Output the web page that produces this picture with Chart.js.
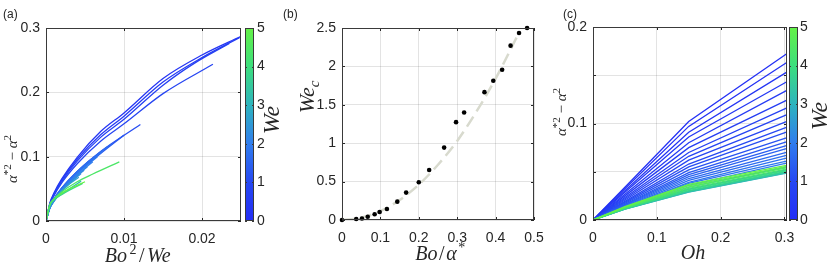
<!DOCTYPE html>
<html>
<head>
<meta charset="utf-8">
<script src="https://cdn.jsdelivr.net/npm/chart.js@4.4.1/dist/chart.umd.min.js"></script>
<style>
body { margin: 0; background: #fff; }
#wrap { position: relative; width: 830px; height: 271px; overflow: hidden; }
canvas { position: absolute; left: 0; top: 0; }
.tag { position: absolute; font: 12px 'Liberation Sans', Arial, sans-serif; color: #262626; }
</style>
</head>
<body>
<div id="wrap">
  <canvas id="chartA" width="830" height="271"></canvas>
  <canvas id="chartB" width="830" height="271"></canvas>
  <canvas id="chartC" width="830" height="271"></canvas>
  <div class="tag" style="left:3px;top:7px">(a)</div>
  <div class="tag" style="left:283px;top:7px">(b)</div>
  <div class="tag" style="left:563px;top:7px">(c)</div>
</div>
<script>
// ---- panel (a): alpha*^2 - alpha^2 vs Bo^2/We, one curve per We
const weA = [0.3, 0.5, 0.7, 0.9, 1.1, 1.3, 1.6, 1.7, 1.8, 1.9, 2.0, 2.1, 2.2, 2.3, 2.6, 3.2, 3.8, 5.0, 4.4];
const curvesAx = [
  [0, 0.0005, 0.001, 0.002, 0.004, 0.007, 0.01, 0.015, 0.02, 0.025],
  [0, 0.0005, 0.001, 0.002, 0.004, 0.007, 0.01, 0.015, 0.02, 0.0248],
  [0, 0.0005, 0.001, 0.002, 0.004, 0.007, 0.01, 0.015, 0.019, 0.0235],
  [0, 0.0005, 0.001, 0.002, 0.004, 0.007, 0.01, 0.015, 0.0214],
  [0, 0.0005, 0.001, 0.002, 0.004, 0.007, 0.0121],
  [0, 0.0005, 0.001, 0.002, 0.004, 0.007, 0.010],
  [0, 0.0005, 0.001, 0.002, 0.004, 0.006, 0.0085],
  [0, 0.0005, 0.001, 0.002, 0.004, 0.006, 0.0079],
  [0, 0.0005, 0.001, 0.002, 0.004, 0.0072],
  [0, 0.0005, 0.001, 0.002, 0.004, 0.0066],
  [0, 0.0005, 0.001, 0.002, 0.004, 0.006],
  [0, 0.0005, 0.001, 0.002, 0.004, 0.0053],
  [0, 0.0005, 0.001, 0.002, 0.004, 0.0049],
  [0, 0.0005, 0.001, 0.002, 0.003, 0.0045],
  [0, 0.0005, 0.001, 0.002, 0.003, 0.0042],
  [0, 0.0005, 0.001, 0.002, 0.003, 0.0045],
  [0, 0.0005, 0.001, 0.002, 0.003, 0.0047],
  [0, 0.0005, 0.001, 0.002, 0.003, 0.005],
  [0, 0.0005, 0.001, 0.002, 0.004, 0.006, 0.0094]
];
const curvesAy = [
  [0, 0.028, 0.043, 0.065, 0.099, 0.139, 0.168, 0.2215, 0.258, 0.287],
  [0, 0.027, 0.041, 0.063, 0.096, 0.134, 0.163, 0.216, 0.254, 0.285],
  [0, 0.026, 0.040, 0.061, 0.093, 0.130, 0.158, 0.211, 0.245, 0.276],
  [0, 0.025, 0.039, 0.059, 0.089, 0.124, 0.151, 0.198, 0.2436],
  [0, 0.022, 0.034, 0.051, 0.077, 0.108, 0.150],
  [0, 0.021, 0.033, 0.050, 0.075, 0.105, 0.1335],
  [0, 0.022, 0.0334, 0.0506, 0.0768, 0.098, 0.1206],
  [0, 0.022, 0.0334, 0.0505, 0.0767, 0.0977, 0.1154],
  [0, 0.0217, 0.0329, 0.0499, 0.0756, 0.1076],
  [0, 0.0212, 0.0322, 0.0487, 0.0739, 0.0998],
  [0, 0.0207, 0.0314, 0.0475, 0.072, 0.092],
  [0, 0.0204, 0.031, 0.047, 0.0712, 0.0843],
  [0, 0.0201, 0.0304, 0.0461, 0.0699, 0.079],
  [0, 0.0199, 0.0301, 0.0456, 0.0581, 0.074],
  [0, 0.0235, 0.033, 0.047, 0.0575, 0.068],
  [0, 0.024, 0.032, 0.042, 0.050, 0.062],
  [0, 0.025, 0.033, 0.041, 0.048, 0.0585],
  [0, 0.026, 0.034, 0.043, 0.050, 0.061],
  [0, 0.025, 0.034, 0.045, 0.061, 0.073, 0.092]
];
const xTicksA = [0, 0.01, 0.02];
const yTicksA = [0, 0.1, 0.2, 0.3];

// ---- panel (b): critical We vs Bo/alpha*
const pointsBx = [0, 0.037, 0.052, 0.067, 0.085, 0.098, 0.117, 0.144, 0.167, 0.200, 0.227, 0.266, 0.297, 0.318, 0.371, 0.394, 0.417, 0.439, 0.461, 0.482];
const pointsBy = [0, 0.013, 0.02, 0.043, 0.074, 0.104, 0.143, 0.239, 0.357, 0.491, 0.652, 0.943, 1.274, 1.40, 1.665, 1.813, 1.957, 2.270, 2.435, 2.50];
const fitBx = [0, 0.05, 0.1, 0.15, 0.2, 0.25, 0.3, 0.35, 0.4, 0.45, 0.455];
const fitBy = [0, 0.03, 0.115, 0.26, 0.46, 0.72, 1.03, 1.41, 1.84, 2.33, 2.38];
const xTicksB = [0, 0.1, 0.2, 0.3, 0.4, 0.5];
const yTicksB = [0, 0.5, 1, 1.5, 2, 2.5];

// ---- panel (c): alpha*^2 - alpha^2 vs Oh, one line per We
const ohC = [0, 0.05, 0.15, 0.303];
const weC = [0.1, 0.2, 0.3, 0.4, 0.5, 0.6, 0.7, 0.8, 0.9, 1.0, 1.1, 1.2, 1.3, 1.4, 1.5, 1.6, 1.7, 1.8, 1.9, 2.0,
             2.25, 2.5, 2.75, 3.0, 3.25, 3.5, 3.75, 4.0, 4.25, 4.5, 4.75, 5.0];
const valC005 = [0.034, 0.0323, 0.0303, 0.0287, 0.0267, 0.025, 0.0233, 0.022, 0.0207, 0.0193, 0.0183, 0.0173, 0.0163, 0.0157, 0.015, 0.0143, 0.0137, 0.013, 0.0127, 0.012,
                 0.0125, 0.012, 0.0115, 0.0112, 0.0113, 0.0115, 0.0118, 0.0121, 0.0125, 0.0129, 0.0134, 0.0139];
const valC015 = [0.102, 0.097, 0.091, 0.086, 0.080, 0.075, 0.070, 0.066, 0.062, 0.058, 0.055, 0.052, 0.049, 0.047, 0.045, 0.043, 0.041, 0.039, 0.038, 0.036,
                 0.034, 0.032, 0.030, 0.029, 0.0292, 0.0298, 0.0305, 0.0315, 0.0327, 0.034, 0.0355, 0.037];
const valCend = [0.172, 0.163, 0.153, 0.143, 0.134, 0.124, 0.116, 0.109, 0.102, 0.096, 0.091, 0.085, 0.081, 0.077, 0.074, 0.070, 0.067, 0.064, 0.061, 0.059,
                 0.055, 0.052, 0.050, 0.0485, 0.0488, 0.0495, 0.0505, 0.0515, 0.0527, 0.054, 0.0552, 0.0565];
const xTicksC = [0, 0.1, 0.2, 0.3];
const yTicksC = [0, 0.05, 0.1, 0.15, 0.2];
const yLabelsC = ['0', '', '0.1', '', '0.2'];
const cbTicks = [0, 1, 2, 3, 4, 5];

// colormap for We (0..5)
const cmap = [[0, [35, 45, 245]], [1, [38, 72, 242]], [2, [48, 125, 238]], [3, [45, 180, 190]], [4, [60, 222, 125]], [5, [100, 242, 70]]];
function weColor(w) {
  for (let i = 1; i < cmap.length; i++) {
    if (w <= cmap[i][0]) {
      const [w0, c0] = cmap[i - 1], [w1, c1] = cmap[i];
      const f = (w - w0) / (w1 - w0);
      return 'rgb(' + c0.map((c, k) => Math.round(c + f * (c1[k] - c))).join(',') + ')';
    }
  }
  return 'rgb(' + cmap[cmap.length - 1][1].join(',') + ')';
}

Chart.defaults.font.family = "'Liberation Sans', Arial, sans-serif";
Chart.defaults.font.size = 14;
Chart.defaults.color = '#262626';

const INK = '#262626';
const GRID = 'rgba(38,38,38,0.13)';
const ROT = -Math.PI / 2;

// rich text for the LaTeX-like labels
function drawMath(ctx, t) {
  const fam = "'Liberation Serif', 'Times New Roman', serif";
  const fontFor = p => {
    const small = p[1] === 'sr' || p[1] === 'si';
    const ital = p[1] === 'i' || p[1] === 'si';
    return (ital ? 'italic ' : '') + Math.round(small ? t.size * 0.7 : t.size) + 'px ' + fam;
  };
  ctx.save();
  ctx.translate(t.x, t.y);
  if (t.rot) ctx.rotate(t.rot);
  let w = 0;
  const widths = t.parts.map(p => { ctx.font = fontFor(p); const m = ctx.measureText(p[0]).width + (t.gap || 0); w += m; return m; });
  let cx = -w / 2;
  ctx.fillStyle = INK;
  ctx.textBaseline = 'alphabetic';
  t.parts.forEach((p, i) => {
    ctx.font = fontFor(p);
    const dy = p[1] === 'sr' ? -t.size * 0.4 : p[1] === 'si' ? t.size * 0.22 : 0;
    ctx.fillText(p[0], cx, dy);
    cx += widths[i];
  });
  ctx.restore();
}

const boxPlugin = {
  id: 'box',
  afterDraw(chart, args, opts) {
    const { ctx, chartArea: a, scales } = chart;
    ctx.save();
    ctx.strokeStyle = INK;
    ctx.lineWidth = 1;
    ctx.beginPath();
    scales.x.ticks.forEach(t => {
      const px = Math.round(scales.x.getPixelForValue(t.value)) + 0.5;
      ctx.moveTo(px, a.bottom); ctx.lineTo(px, a.bottom - 3);
      ctx.moveTo(px, a.top); ctx.lineTo(px, a.top + 3);
    });
    scales.y.ticks.forEach(t => {
      const py = Math.round(scales.y.getPixelForValue(t.value)) + 0.5;
      ctx.moveTo(a.left, py); ctx.lineTo(a.left + 3, py);
      ctx.moveTo(a.right, py); ctx.lineTo(a.right - 3, py);
    });
    ctx.stroke();
    ctx.strokeStyle = '#3a3a3a';
    ctx.strokeRect(a.left + 0.5, a.top + 0.5, a.width - 1, a.height - 1);
    if (opts.cb) {
      const cb = scales.cb;
      const x0 = a.right + opts.cb.gap, w = opts.cb.w;
      const g = ctx.createLinearGradient(0, cb.bottom, 0, cb.top);
      cmap.forEach(([v, c]) => g.addColorStop(v / 5, 'rgb(' + c.join(',') + ')'));
      ctx.fillStyle = g;
      ctx.fillRect(x0, cb.top, w, cb.bottom - cb.top);
      ctx.beginPath();
      cbTicks.forEach(v => {
        const py = Math.round(cb.getPixelForValue(v)) + 0.5;
        ctx.moveTo(x0 + w, py); ctx.lineTo(x0 + w - 2, py);
        ctx.moveTo(x0, py); ctx.lineTo(x0 + 2, py);
      });
      ctx.stroke();
      ctx.strokeRect(x0 + 0.5, cb.top + 0.5, w - 1, cb.bottom - cb.top - 1);
    }
    (opts.titles || []).forEach(t => drawMath(ctx, t));
    ctx.restore();
  }
};
Chart.register(boxPlugin);

function fixedTicks(vals) {
  return s => { s.ticks = vals.map(v => ({ value: v })); };
}
function xAxis(min, max, ticks, height, pad) {
  return {
    type: 'linear', position: 'bottom', min, max,
    afterBuildTicks: fixedTicks(ticks),
    afterFit: s => { s.height = height; },
    grid: { color: GRID, drawTicks: false },
    border: { display: false },
    ticks: { padding: pad, autoSkip: false, maxRotation: 0, callback: v => String(v) }
  };
}
function yAxis(min, max, ticks, labels) {
  return {
    type: 'linear', position: 'left', min, max,
    afterBuildTicks: fixedTicks(ticks),
    afterFit: s => { s.width = 40; },
    grid: { color: GRID, drawTicks: false },
    border: { display: false },
    ticks: { padding: 6, autoSkip: false, callback: (v, i) => labels ? labels[i] : String(v) }
  };
}
function cbAxis(width, pad) {
  return {
    type: 'linear', position: 'right', min: 0, max: 5,
    afterBuildTicks: fixedTicks(cbTicks),
    afterFit: s => { s.width = width; },
    grid: { display: false, drawTicks: false },
    border: { display: false },
    ticks: { padding: pad, autoSkip: false, callback: v => String(v) }
  };
}
const alphaLabel = [['α', 'i'], ['*2', 'sr'], [' − ', 'r'], ['α', 'i'], ['2', 'sr']];

// panel (a)
new Chart(document.getElementById('chartA'), {
  type: 'scatter',
  data: {
    datasets: curvesAx.map((xs, i) => ({
      data: xs.map((x, j) => ({ x, y: curvesAy[i][j] })),
      showLine: true, pointRadius: 0, borderWidth: 1.3,
      borderColor: weColor(weA[i]), cubicInterpolationMode: 'monotone',
      order: -i
    }))
  },
  options: {
    responsive: false, animation: false,
    layout: { padding: { left: 6, right: 550, top: 28, bottom: 0 } },
    plugins: {
      legend: { display: false }, tooltip: { enabled: false },
      box: {
        cb: { gap: 4, w: 9 },
        titles: [
          { x: 139, y: 262, size: 20, gap: 2.5, parts: [['Bo', 'i'], ['2', 'sr'], ['/', 'r'], ['We', 'i']] },
          { x: 17, y: 159, size: 15, rot: ROT, parts: alphaLabel },
          { x: 279, y: 120, size: 24, rot: ROT, parts: [['We', 'i']] }
        ]
      }
    },
    scales: {
      x: xAxis(0, 0.025, xTicksA, 50, 10),
      y: yAxis(0, 0.3, yTicksA),
      cb: cbAxis(39, 16)
    }
  }
});

// panel (b)
new Chart(document.getElementById('chartB'), {
  type: 'scatter',
  data: {
    datasets: [
      {
        data: pointsBx.map((x, i) => ({ x, y: pointsBy[i] })),
        pointRadius: 2.3, pointBackgroundColor: '#000', pointBorderWidth: 0,
        clip: false, order: 0
      },
      {
        data: fitBx.map((x, i) => ({ x, y: fitBy[i] })),
        showLine: true, pointRadius: 0, borderWidth: 2.5, borderDash: [12, 6],
        borderColor: 'rgb(216,218,206)', cubicInterpolationMode: 'monotone', order: 1
      }
    ]
  },
  options: {
    responsive: false, animation: false,
    layout: { padding: { left: 302, right: 296, top: 28, bottom: 0 } },
    plugins: {
      legend: { display: false }, tooltip: { enabled: false },
      box: {
        titles: [
          { x: 441, y: 260, size: 20, gap: 1.5, parts: [['Bo', 'i'], ['/', 'r'], ['α', 'i'], ['*', 'sr']] },
          { x: 314, y: 97, size: 22, rot: ROT, parts: [['We', 'i'], ['c', 'si']] }
        ]
      }
    },
    scales: {
      x: xAxis(0, 0.5, xTicksB, 51, 10),
      y: yAxis(0, 2.5, yTicksB)
    }
  }
});

// panel (c)
new Chart(document.getElementById('chartC'), {
  type: 'scatter',
  data: {
    datasets: weC.map((w, i) => ({
      data: [valC005[i], valC015[i], valCend[i]].reduce((arr, v, j) => arr.concat({ x: ohC[j + 1], y: v }), [{ x: ohC[0], y: 0 }]),
      showLine: true, pointRadius: 0, borderWidth: 1.3,
      borderColor: weColor(w), order: -i
    }))
  },
  options: {
    responsive: false, animation: false,
    layout: { padding: { left: 553, right: 0, top: 27, bottom: 0 } },
    plugins: {
      legend: { display: false }, tooltip: { enabled: false },
      box: {
        cb: { gap: 2, w: 9 },
        titles: [
          { x: 693, y: 259, size: 20, parts: [['Oh', 'i']] },
          { x: 566, y: 112, size: 15, rot: ROT, parts: alphaLabel },
          { x: 827, y: 116, size: 24, rot: ROT, parts: [['We', 'i']] }
        ]
      }
    },
    scales: {
      x: xAxis(0, 0.304, xTicksC, 51, 10),
      y: yAxis(0, 0.2, yTicksC, yLabelsC),
      cb: cbAxis(43, 13)
    }
  }
});
</script>
</body>
</html>
